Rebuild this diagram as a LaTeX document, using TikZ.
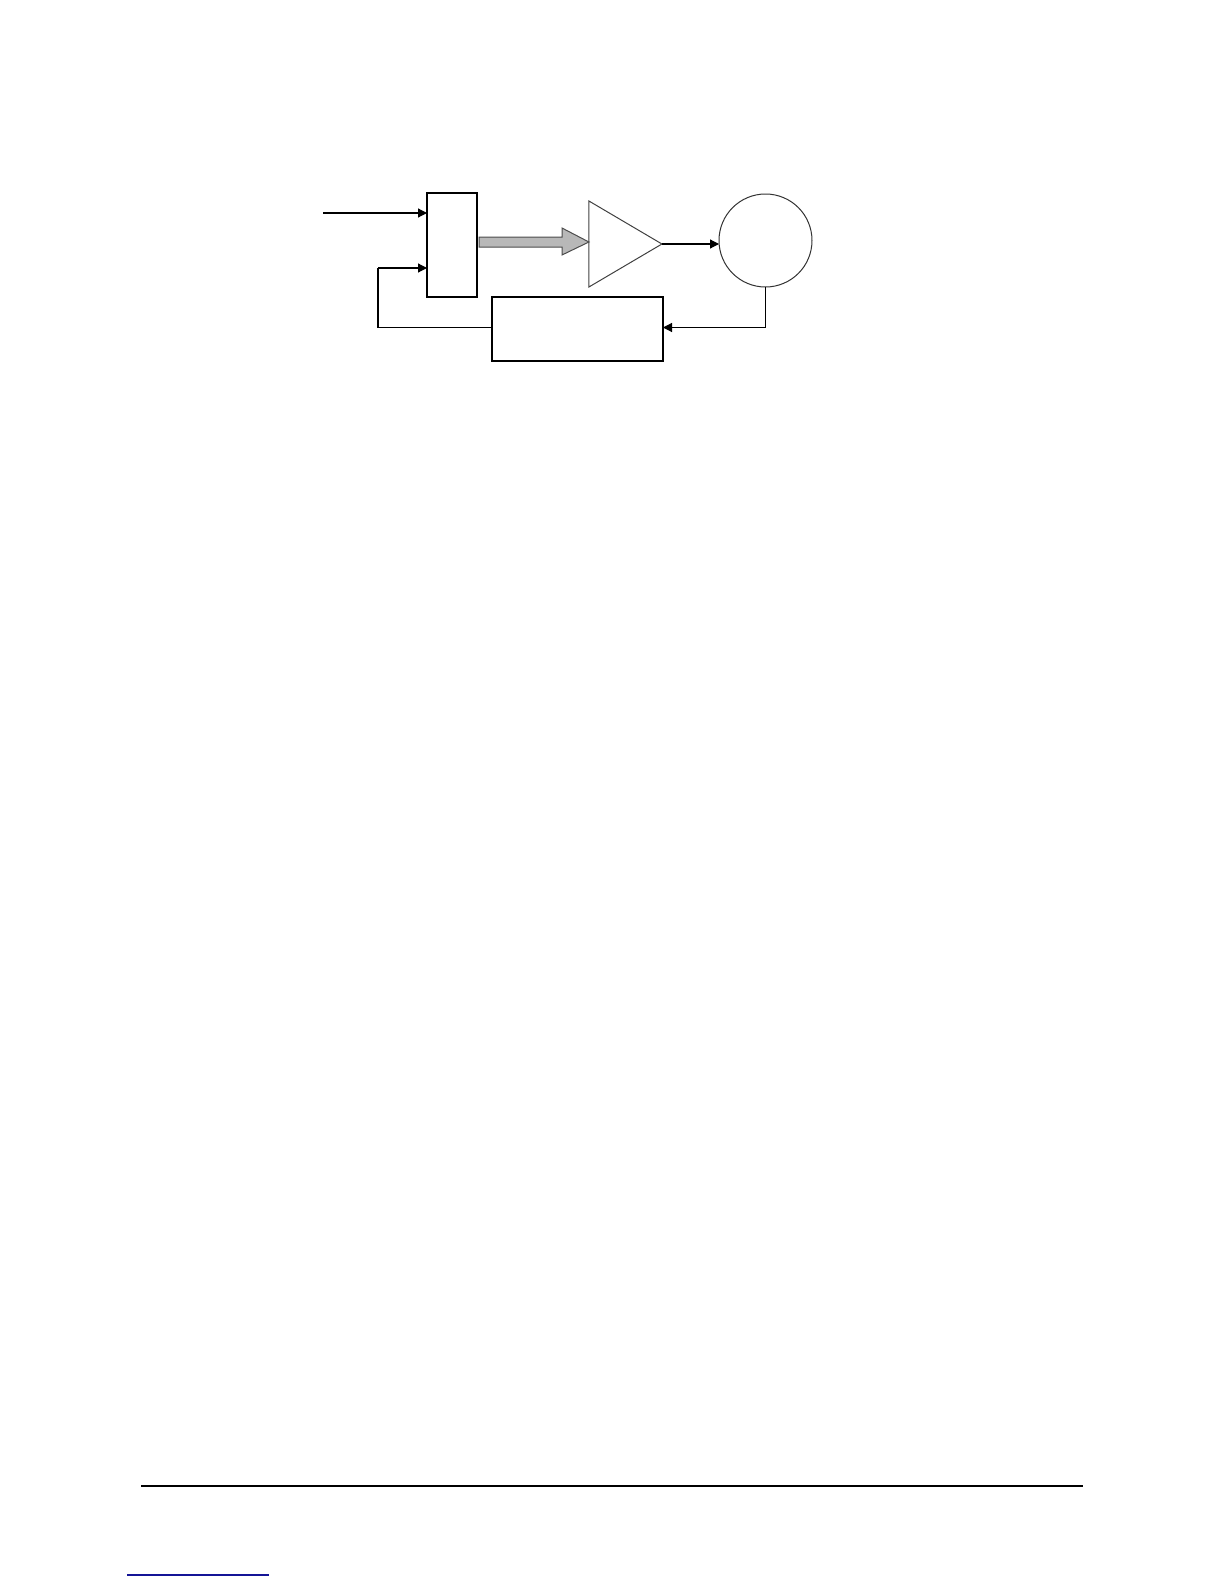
\documentclass[tikz,border=0pt]{standalone}
\usetikzlibrary{arrows.meta,shapes.geometric}
\begin{document}
\begin{tikzpicture}[x=0.5pt,y=-0.5pt,
  wire/.style={line width=0.6pt,draw=black},
  arr/.style={wire,-{Triangle[length=4.5pt,width=4.5pt]}},
  blockbox/.style={draw=black,line width=0.6pt,inner sep=0pt,outer sep=0pt,minimum width=#1},
  amp/.style={isosceles triangle,isosceles triangle stretches=true,draw=black!75,line width=0.5pt,
    inner sep=0pt,outer sep=0pt,minimum width=43pt,minimum height=36.5pt},
  plant/.style={circle,draw=black!80,line width=0.5pt,inner sep=0pt,outer sep=0pt,minimum size=46.5pt},
  fat/.style={fill=black!28,draw=black!70,line width=0.5pt}]
\useasboundingbox (0,0) rectangle (1224,1584);
% blocks
\node[blockbox=25pt,minimum height=52pt] (sum) at (452,245) {};
\node[amp] (tri) at (613.5,244) {};
\node[plant] (circ) at (765.5,240.5) {};
\node[blockbox=85.5pt,minimum height=32pt] (fbk) at (577.5,329) {};
\coordinate (in) at (323,213);
\coordinate (fb) at (378,268);
% input
\draw[arr] (in) -- (in -| sum.west);
% thick gray arrow
\coordinate (ga) at (479,242);
\draw[fat] (479,237) -- (562,237) -- (562,228) -- (tri.left corner |- ga) -- (562,255) -- (562,247) -- (479,247) -- cycle;
% amp to plant
\draw[arr] (tri.apex) -- (tri.apex -| circ.west);
% plant to feedback block
\draw[arr] (circ.south) |- ([yshift=0.75pt]fbk.east);
% feedback to summing block
\draw[wire,line width=0.9pt] ([yshift=0.75pt]fbk.west) -| (fb);
\draw[arr] (fb) -- (fb -| sum.west);
% footer
\draw[line width=1.3pt] (141,1486) -- (1083,1486);
\draw[line width=0.6pt,draw={rgb,255:red,20;green,20;blue,150}] (127,1575) -- (269,1575);
\end{tikzpicture}
\end{document}
